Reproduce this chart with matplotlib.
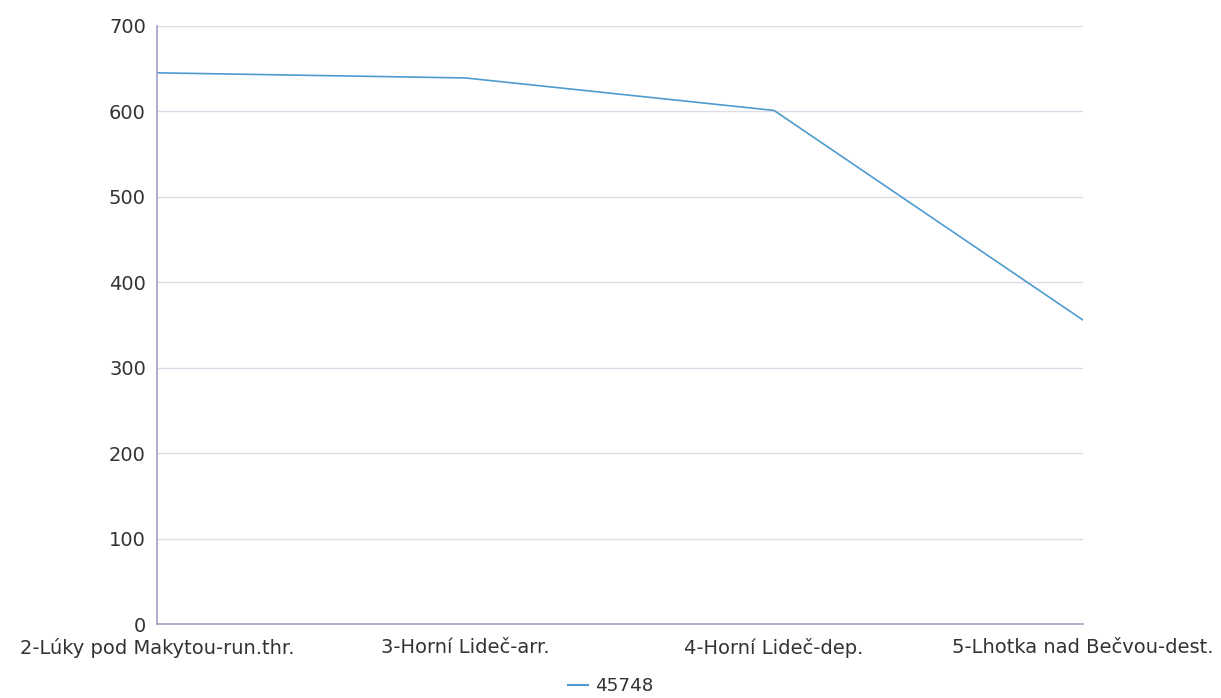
import matplotlib.pyplot as plt
from matplotlib.lines import Line2D

# data
stations = ['2-Lúky pod Makytou-run.thr.', '3-Horní Lideč-arr.',
            '4-Horní Lideč-dep.', '5-Lhotka nad Bečvou-dest.']
values = [645, 639, 601, 356]
series_name = '45748'

plt.rcParams['font.family'] = ['DejaVu Sans']

fig = plt.figure(figsize=(12.21, 6.98), dpi=100)
ax = fig.add_axes([0.1286, 0.106, 0.758, 0.857])

line_color = '#4f9bcf'
ax.plot(range(len(stations)), values, color=line_color, linewidth=1.2)

ax.set_xlim(0, len(stations) - 1)
ax.set_ylim(0, 700)
ax.set_yticks(range(0, 701, 100))
ax.set_xticks(range(len(stations)))
ax.set_xticklabels(stations)

ax.grid(axis='y', color='#dcdce8', linewidth=1)
ax.set_axisbelow(True)
for side in ['top', 'right']:
    ax.spines[side].set_visible(False)
for side in ['left', 'bottom']:
    ax.spines[side].set_color('#a0a0c4')
    ax.spines[side].set_linewidth(1.2)
ax.tick_params(axis='both', length=0, labelsize=14, colors='#333333')
ax.tick_params(axis='y', pad=8)
ax.tick_params(axis='x', pad=10)

handle = Line2D([], [], color=line_color, linewidth=1.5)
fig.legend([handle], [series_name], loc='center', bbox_to_anchor=(0.5, 0.017),
           frameon=False, fontsize=13.2, handlelength=1.1, handletextpad=0.4,
           labelcolor='#333333')

fig.savefig('out.png', dpi=100)
